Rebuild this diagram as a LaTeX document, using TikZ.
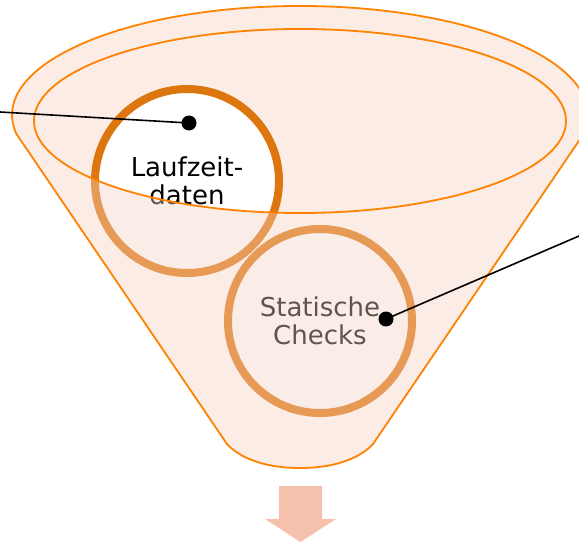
\documentclass[tikz,border=0pt]{standalone}
\usepackage{fontspec}
\newfontfamily\labelfont{DejaVu Sans}
\definecolor{FunnelOrange}{RGB}{255,130,0}
\definecolor{WallPink}{RGB}{244,209,193}
\definecolor{RingOrange}{RGB}{222,118,16}
\definecolor{ArrowPeach}{RGB}{246,193,172}
\tikzset{
  stage/.style={circle,draw=RingOrange,line width=8pt,fill=white,minimum size=184pt,
    inner sep=0pt,align=center,font=\labelfont\fontsize{26}{27.5}\selectfont},
  pindot/.style={circle,fill=black,minimum size=15pt,inner sep=0pt},
  callout/.style={line width=1.6pt}
}

\begin{document}
\begin{tikzpicture}[x=1pt,y=-1pt]
  \useasboundingbox (0,0) rectangle (579,543);
  \fill[WallPink,fill opacity=0.4] (300,121) ellipse [x radius=266,y radius=92];
  \node[stage] (run) at (187,181) {Laufzeit-\\daten};
  \node[stage] (static) at (320,321) {Statische\\Checks};
  \path[fill=WallPink,fill opacity=0.4,even odd rule,draw=FunnelOrange,line width=1.8pt]
    (16.4,133.9) arc[start angle=170,end angle=370,x radius=288,y radius=109]
    -- (373,444) .. controls (366,452) and (345,468) .. (300,468)
    .. controls (255,468) and (234,452) .. (227,444) -- cycle
    (300,121) ellipse [x radius=266,y radius=92];
  \coordinate (runend) at (0,112);
  \node[pindot] (runpin) at (189,123) {};
  \draw[callout] (runend) -- (runpin.center);
  \coordinate (staticend) at (579,236);
  \node[pindot] (staticpin) at (386,319) {};
  \draw[callout] (staticpin.center) -- (staticend);
  \fill[ArrowPeach] (279,486) -- (322,486) -- (322,519) -- (336,519) -- (300.5,542)
    -- (265,519) -- (279,519) -- cycle;
\end{tikzpicture}
\end{document}
